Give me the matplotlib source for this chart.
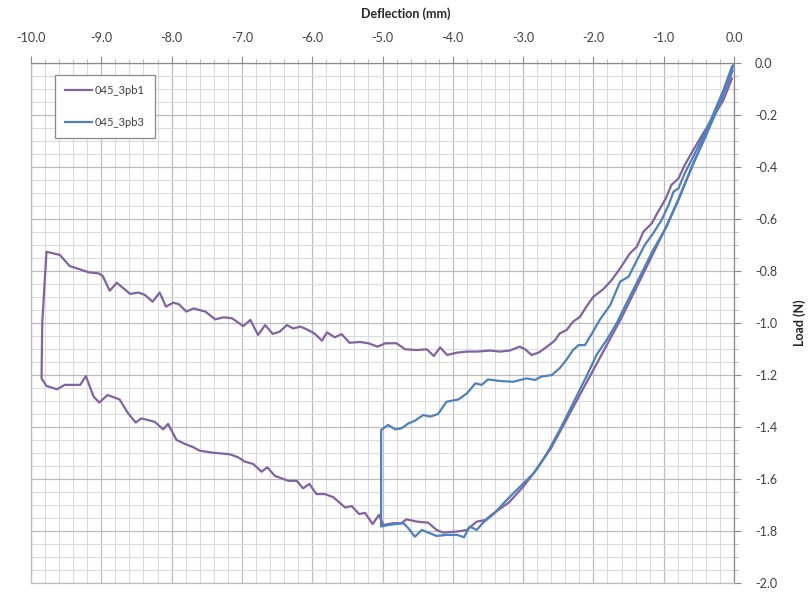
import matplotlib
matplotlib.use("Agg")
import matplotlib.pyplot as plt
from matplotlib.ticker import MultipleLocator, FormatStrFormatter

plt.rcParams['font.family'] = ['Lato', 'DejaVu Sans']

# ---- data: 045_3pb1 (purple) ----
pb1_x = [-0.02, -0.20, -0.40, -0.60, -0.80, -1.00, -1.20, -1.40, -1.60, -1.80,
         -2.00, -2.20, -2.40, -2.60, -2.80, -3.00, -3.20, -3.42, -3.54, -3.66,
         -3.80, -3.94, -4.14, -4.23, -4.35, -4.51, -4.66, -4.73, -4.85, -4.99,
         -5.04, -5.05, -5.14, -5.25, -5.33, -5.44, -5.53, -5.70, -5.82, -5.94,
         -6.04, -6.13, -6.22, -6.34, -6.53, -6.64, -6.72, -6.84, -6.96, -7.05,
         -7.17, -7.41, -7.60, -7.69, -7.81, -7.93, -8.05, -8.12, -8.24, -8.43,
         -8.51, -8.62, -8.74, -8.91, -9.03, -9.11, -9.22, -9.30, -9.52, -9.63,
         -9.78, -9.85, -9.84, -9.78, -9.59, -9.45, -9.30, -9.18, -9.04, -8.98,
         -8.88, -8.78, -8.59, -8.47, -8.38, -8.27, -8.17, -8.08, -7.98, -7.90,
         -7.79, -7.69, -7.52, -7.38, -7.26, -7.14, -6.98, -6.88, -6.77, -6.67,
         -6.56, -6.46, -6.36, -6.27, -6.17, -6.08, -5.97, -5.86, -5.79, -5.68,
         -5.58, -5.47, -5.32, -5.20, -5.07, -4.96, -4.80, -4.68, -4.51, -4.37,
         -4.27, -4.18, -4.08, -3.94, -3.80, -3.66, -3.47, -3.33, -3.19, -3.05,
         -2.97, -2.88, -2.78, -2.66, -2.55, -2.48, -2.38, -2.29, -2.19, -2.10,
         -2.00, -1.86, -1.74, -1.62, -1.48, -1.38, -1.29, -1.17, -1.08, -0.97,
         -0.89, -0.79, -0.70, -0.58, -0.44, -0.29, -0.15, -0.03]
pb1_y = [-0.03, -0.15, -0.28, -0.40, -0.53, -0.65, -0.76, -0.87, -0.98, -1.08,
         -1.18, -1.28, -1.38, -1.48, -1.56, -1.63, -1.69, -1.732, -1.758, -1.764,
         -1.796, -1.802, -1.806, -1.796, -1.768, -1.764, -1.755, -1.770, -1.770, -1.777,
         -1.745, -1.738, -1.773, -1.730, -1.735, -1.704, -1.710, -1.670, -1.658, -1.658,
         -1.619, -1.636, -1.607, -1.607, -1.588, -1.555, -1.572, -1.542, -1.533, -1.517,
         -1.505, -1.499, -1.491, -1.478, -1.465, -1.450, -1.388, -1.409, -1.380, -1.367,
         -1.383, -1.347, -1.294, -1.277, -1.306, -1.283, -1.204, -1.238, -1.238, -1.255,
         -1.242, -1.213, -1.000, -0.726, -0.738, -0.781, -0.794, -0.805, -0.809, -0.819,
         -0.876, -0.845, -0.888, -0.883, -0.892, -0.918, -0.883, -0.937, -0.922, -0.927,
         -0.956, -0.944, -0.956, -0.986, -0.978, -0.982, -1.012, -0.988, -1.046, -1.008,
         -1.042, -1.033, -1.008, -1.021, -1.014, -1.024, -1.040, -1.068, -1.036, -1.055,
         -1.043, -1.076, -1.073, -1.078, -1.091, -1.078, -1.078, -1.101, -1.104, -1.101,
         -1.127, -1.094, -1.123, -1.114, -1.110, -1.110, -1.106, -1.110, -1.106, -1.091,
         -1.101, -1.123, -1.114, -1.091, -1.068, -1.040, -1.027, -0.995, -0.976, -0.937,
         -0.899, -0.870, -0.835, -0.790, -0.732, -0.706, -0.649, -0.617, -0.572, -0.521,
         -0.469, -0.444, -0.392, -0.335, -0.271, -0.206, -0.142, -0.060]

# ---- data: 045_3pb3 (blue) ----
pb3_x = [0.00, -0.03, -0.20, -0.39, -0.58, -0.77, -0.96, -1.15, -1.34, -1.53,
         -1.67, -1.81, -1.95, -2.10, -2.29, -2.48, -2.66, -2.85, -2.97, -3.14,
         -3.28, -3.42, -3.57, -3.66, -3.76, -3.84, -3.94, -4.09, -4.23, -4.35,
         -4.44, -4.54, -4.63, -4.70, -4.80, -4.92, -5.02, -5.02, -4.92, -4.82,
         -4.73, -4.63, -4.54, -4.42, -4.32, -4.21, -4.09, -3.92, -3.80, -3.68,
         -3.59, -3.50, -3.33, -3.14, -2.95, -2.83, -2.74, -2.59, -2.48, -2.38,
         -2.29, -2.21, -2.12, -2.02, -1.91, -1.76, -1.62, -1.50, -1.38, -1.27,
         -1.15, -1.03, -0.93, -0.86, -0.79, -0.70, -0.58, -0.44, -0.29, -0.15,
         -0.03]
pb3_y = [0.00, -0.027, -0.155, -0.271, -0.386, -0.514, -0.630, -0.719, -0.822, -0.924,
         -1.001, -1.065, -1.120, -1.206, -1.309, -1.412, -1.501, -1.578, -1.610, -1.655,
         -1.694, -1.735, -1.768, -1.796, -1.783, -1.824, -1.815, -1.815, -1.819, -1.806,
         -1.796, -1.822, -1.790, -1.770, -1.773, -1.777, -1.783, -1.412, -1.392, -1.409,
         -1.405, -1.386, -1.376, -1.354, -1.360, -1.350, -1.303, -1.294, -1.271, -1.232,
         -1.238, -1.217, -1.223, -1.226, -1.213, -1.219, -1.206, -1.200, -1.174, -1.140,
         -1.104, -1.085, -1.085, -1.040, -0.988, -0.931, -0.841, -0.822, -0.758, -0.700,
         -0.655, -0.604, -0.546, -0.495, -0.482, -0.424, -0.360, -0.283, -0.194, -0.104,
         -0.014]

series_names = ['045_3pb1', '045_3pb3']
x_ticks = [-10.0, -9.0, -8.0, -7.0, -6.0, -5.0, -4.0, -3.0, -2.0, -1.0, 0.0]
y_ticks = [0.0, -0.2, -0.4, -0.6, -0.8, -1.0, -1.2, -1.4, -1.6, -1.8, -2.0]

W, H = 811, 593
fig = plt.figure(figsize=(W / 100, H / 100), dpi=100)
ax = fig.add_axes([31 / W, 1 - 583 / H, (734 - 31) / W, (583 - 63) / H])

ax.plot(pb1_x, pb1_y, color='#8064A2', lw=1.6, label=series_names[0], solid_joinstyle='round')
ax.plot(pb3_x, pb3_y, color='#4F81BD', lw=1.6, label=series_names[1], solid_joinstyle='round')

ax.set_xlim(-10, 0)
ax.set_ylim(-2.0, 0.0)
ax.set_xticks(x_ticks)
ax.set_yticks(y_ticks)
ax.xaxis.set_minor_locator(MultipleLocator(0.2))
ax.yaxis.set_minor_locator(MultipleLocator(0.05))
ax.xaxis.set_major_formatter(FormatStrFormatter('%.1f'))
ax.yaxis.set_major_formatter(FormatStrFormatter('%.1f'))

ax.grid(which='major', color='#bcbcbc', lw=0.9)
ax.grid(which='minor', color='#dcdcdc', lw=0.8)
ax.set_axisbelow(True)

ax.xaxis.tick_top()
ax.yaxis.tick_right()
ax.tick_params(axis='x', which='major', length=5, color='#8a8a8a', labelsize=9,
               labelcolor='#404040', pad=9)
ax.tick_params(axis='y', which='major', length=5, color='#8a8a8a', labelsize=9,
               labelcolor='#404040', pad=10)
ax.tick_params(which='minor', length=3, color='#b0b0b0')

for side in ['top', 'right']:
    ax.spines[side].set_color('#8a8a8a')
    ax.spines[side].set_linewidth(0.9)
for side in ['left', 'bottom']:
    ax.spines[side].set_color('#bcbcbc')
    ax.spines[side].set_linewidth(0.9)

fig.text(406 / W, 1 - 14 / H, 'Deflection (mm)', ha='center', va='center',
         fontsize=9, fontweight='bold', color='#262626')
fig.text(800 / W, 1 - 323 / H, 'Load (N)', ha='center', va='center', rotation=90,
         fontsize=9, fontweight='bold', color='#262626')

leg = ax.legend(loc='upper left', bbox_to_anchor=(55 / W, 1 - 75 / H),
                bbox_transform=fig.transFigure, fontsize=8, frameon=True,
                fancybox=False, edgecolor='#8a8a8a', framealpha=1,
                labelspacing=1.9, handlelength=2.4, handletextpad=0.3,
                borderpad=0.9, borderaxespad=0)
leg.get_frame().set_linewidth(0.9)
for t in leg.get_texts():
    t.set_color('#404040')

fig.savefig('out.png', dpi=100)
